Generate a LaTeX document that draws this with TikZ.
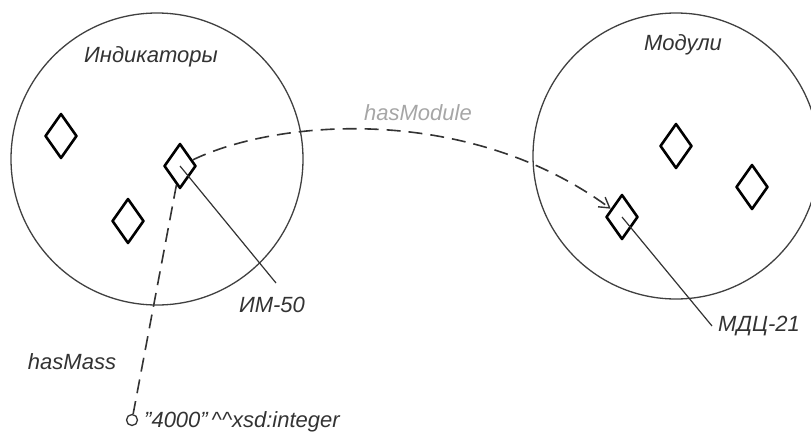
\documentclass[tikz,border=0pt]{standalone}
\usepackage{fontspec}
\setmainfont{Liberation Sans}
\usetikzlibrary{shapes.geometric,arrows.meta}
\begin{document}
\begin{tikzpicture}[x=1pt,y=-1pt,
  region/.style={draw=black!75,line width=1.3pt,circle,inner sep=0pt},
  indiv/.style={draw=black,line width=2.6pt,line join=round,diamond,inner sep=0pt,minimum width=32pt,minimum height=45pt},
  lbl/.style={font=\fontsize{22}{26}\selectfont\itshape,text=black!80,inner sep=0pt},
  dline/.style={draw=black!80,line width=1.6pt,dash pattern=on 14pt off 8pt},
  leader/.style={draw=black!80,line width=1.2pt},
  literal/.style={draw=black!80,line width=1.3pt,circle,inner sep=0pt,minimum size=11pt}]
\useasboundingbox (0,0) rectangle (811,442);
\node[region,minimum size=292pt] (L) at (157,159) {};
\node[region,minimum size=286pt] (R) at (676,156) {};
\node[lbl] (tInd) at (151,57) {Индикаторы};
\node[lbl] (tMod) at (683,45) {Модули};
\node[indiv] (d1) at (61,136) {};
\node[indiv] (im50) at (180,166) {};
\node[indiv] (d3) at (128,221) {};
\node[indiv] (ma) at (676,146) {};
\node[indiv] (mb) at (752,187) {};
\node[indiv] (mdc) at (622,217) {};
\node[literal] (lit) at (132,420) {};
\coordinate (e1) at (276,283);
\coordinate (e2) at (712,326);
\draw[leader] (im50.center) -- (e1);
\draw[leader] (mdc.center) -- (e2);
\node[lbl,anchor=north] (tIM) at (272,297) {ИМ-50};
\node[lbl,anchor=west] (tMDC) at (718,326) {МДЦ-21};
\draw[dline] (im50) -- (lit);
\draw[dline,-{Straight Barb[length=10pt,width=12pt,line width=1.4pt]}] (im50) .. controls (280,118) and (470,105) .. (mdc);
\node[lbl,text=black!35] (tHas) at (418,113) {hasModule};
\node[lbl] (tMass) at (72,362) {hasMass};
\node[lbl,anchor=west] (tLit) at (144,422) {"4000"\,\textasciicircum\textasciicircum xsd:integer};
\end{tikzpicture}
\end{document}
